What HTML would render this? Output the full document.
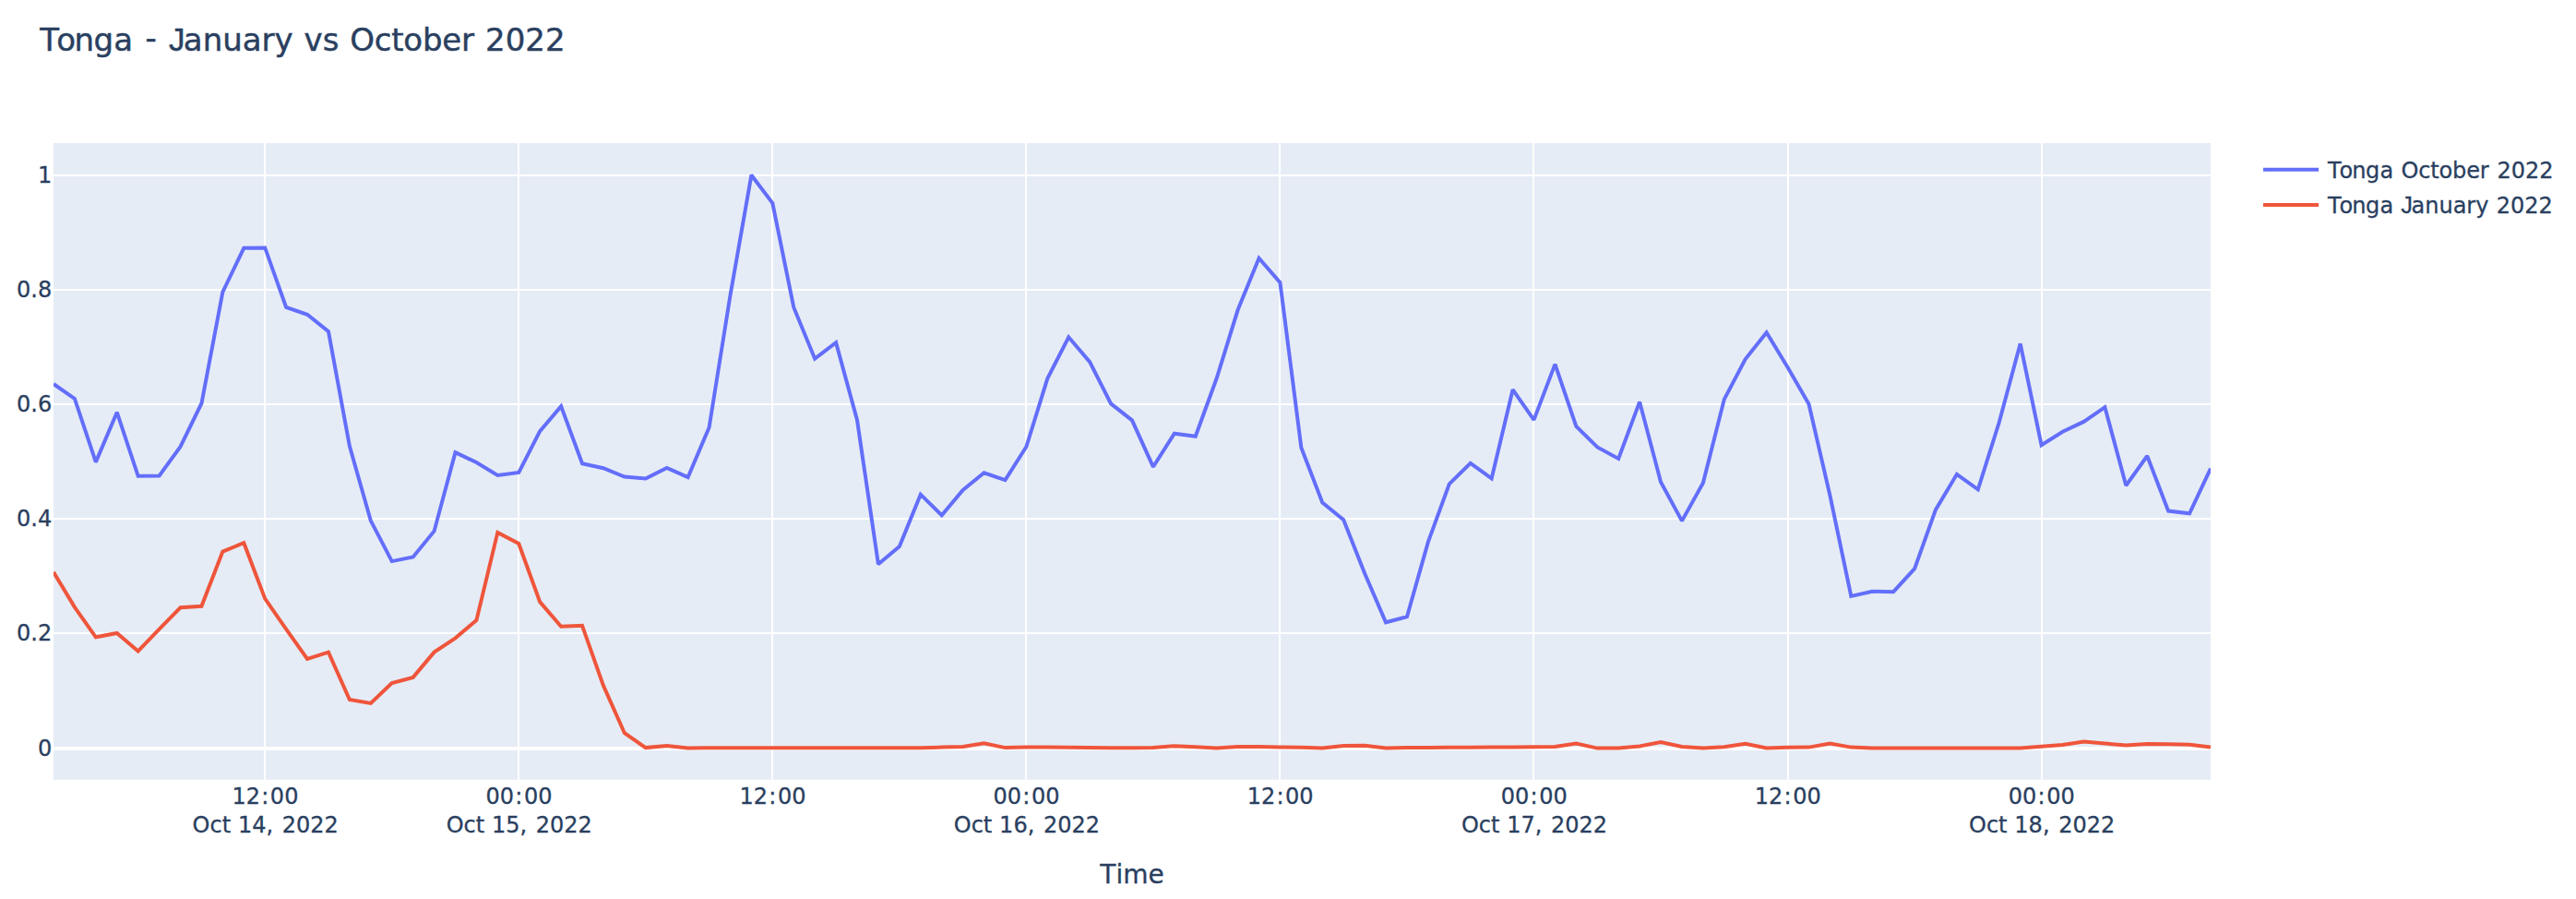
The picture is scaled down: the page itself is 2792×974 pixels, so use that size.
<!DOCTYPE html>
<html lang="en">
<head>
<meta charset="utf-8">
<title>Tonga - January vs October 2022</title>
<style>
html,body{margin:0;padding:0;background:#fff;}
body{width:2792px;height:974px;overflow:hidden;}
svg{display:block;}
text{font-family:"DejaVu Sans","Liberation Sans",Verdana,sans-serif;fill:#2a3f5f;stroke:#2a3f5f;stroke-width:0.3px;font-kerning:none;}
.ti{stroke-width:0.45px;}
.lj{font-family:"Liberation Sans","DejaVu Sans",sans-serif;}
</style>
</head>
<body>
<svg width="2792" height="974" viewBox="0 0 2792 974">
<rect x="0" y="0" width="2792" height="974" fill="#ffffff"/>
<rect x="58.0" y="155.0" width="2338.0" height="689.7" fill="#e5ecf6"/>
<g fill="#ffffff">
<rect x="286" y="155.0" width="2" height="689.7"/>
<rect x="561" y="155.0" width="2" height="689.7"/>
<rect x="836" y="155.0" width="2" height="689.7"/>
<rect x="1111" y="155.0" width="2" height="689.7"/>
<rect x="1386" y="155.0" width="2" height="689.7"/>
<rect x="1661" y="155.0" width="2" height="689.7"/>
<rect x="1937" y="155.0" width="2" height="689.7"/>
<rect x="2212" y="155.0" width="2" height="689.7"/>
<rect x="58.0" y="685" width="2338.0" height="2"/>
<rect x="58.0" y="561" width="2338.0" height="2"/>
<rect x="58.0" y="437" width="2338.0" height="2"/>
<rect x="58.0" y="313" width="2338.0" height="2"/>
<rect x="58.0" y="189" width="2338.0" height="2"/>
<rect x="58.0" y="809" width="2338.0" height="4"/>
</g>
<clipPath id="c"><rect x="58.0" y="155.0" width="2338.0" height="689.7"/></clipPath>
<g clip-path="url(#c)" fill="none" stroke-width="4" stroke-linejoin="miter" stroke-miterlimit="2">
<path d="M58.00,416.00L80.92,431.90L103.84,500.60L126.76,446.70L149.69,515.80L172.61,515.40L195.53,484.00L218.45,437.00L241.37,316.30L264.29,268.80L287.22,268.40L310.14,333.00L333.06,340.80L355.98,359.10L378.90,483.40L401.82,564.10L424.75,608.10L447.67,603.40L470.59,575.40L493.51,490.20L516.43,501.00L539.35,515.00L562.27,511.90L585.20,467.20L608.12,440.10L631.04,502.20L653.96,507.20L676.88,516.60L699.80,518.50L722.73,506.90L745.65,517.00L768.57,463.20L791.49,320.00L814.41,189.70L837.33,220.10L860.25,333.00L883.18,388.70L906.10,371.20L929.02,455.20L951.94,611.20L974.86,592.10L997.78,535.70L1020.71,558.30L1043.63,531.00L1066.55,512.30L1089.47,520.10L1112.39,484.00L1135.31,410.10L1158.24,365.30L1181.16,392.20L1204.08,437.40L1227.00,455.30L1249.92,505.80L1272.84,469.70L1295.76,472.80L1318.69,409.80L1341.61,335.80L1364.53,279.70L1387.45,306.20L1410.37,485.00L1433.29,544.60L1456.22,563.30L1479.14,621.30L1502.06,674.30L1524.98,668.10L1547.90,587.10L1570.82,524.30L1593.75,501.80L1616.67,518.40L1639.59,422.20L1662.51,454.90L1685.43,394.60L1708.35,461.90L1731.27,484.40L1754.20,496.90L1777.12,435.40L1800.04,522.20L1822.96,564.40L1845.88,523.30L1868.80,432.60L1891.73,389.00L1914.65,360.20L1937.57,398.00L1960.49,437.70L1983.41,536.70L2006.33,645.90L2029.25,640.80L2052.18,641.20L2075.10,616.20L2098.02,552.10L2120.94,513.80L2143.86,530.30L2166.78,457.50L2189.71,372.30L2212.63,482.20L2235.55,467.80L2258.47,456.90L2281.39,441.20L2304.31,526.00L2327.24,494.00L2350.16,553.60L2373.08,556.30L2396.00,507.60" stroke="#636efa"/>
<path d="M58.00,619.80L80.92,657.90L103.84,690.30L126.76,686.00L149.69,705.50L172.61,681.70L195.53,658.30L218.45,656.80L241.37,597.60L264.29,588.20L287.22,648.60L310.14,681.70L333.06,714.00L355.98,706.60L378.90,758.00L401.82,761.90L424.75,740.10L447.67,733.90L470.59,706.60L493.51,691.40L516.43,672.00L539.35,576.90L562.27,589.00L585.20,652.10L608.12,678.80L631.04,677.80L653.96,742.80L676.88,794.20L699.80,810.10L722.73,807.90L745.65,810.40L768.57,810.20L791.49,810.20L814.41,810.20L837.33,810.20L860.25,810.20L883.18,810.20L906.10,810.20L929.02,810.20L951.94,810.20L974.86,810.20L997.78,810.20L1020.71,809.60L1043.63,809.00L1066.55,805.20L1089.47,810.10L1112.39,809.60L1135.31,809.60L1158.24,809.80L1181.16,810.10L1204.08,810.20L1227.00,810.20L1249.92,810.10L1272.84,808.30L1295.76,809.20L1318.69,810.40L1341.61,809.00L1364.53,809.00L1387.45,809.60L1410.37,809.80L1433.29,810.40L1456.22,807.90L1479.14,807.70L1502.06,810.40L1524.98,810.10L1547.90,810.00L1570.82,809.80L1593.75,809.70L1616.67,809.60L1639.59,809.40L1662.51,809.30L1685.43,809.00L1708.35,805.50L1731.27,810.60L1754.20,810.40L1777.12,808.50L1800.04,804.10L1822.96,809.00L1845.88,810.60L1868.80,809.30L1891.73,805.80L1914.65,810.40L1937.57,809.80L1960.49,809.60L1983.41,805.60L2006.33,809.60L2029.25,810.60L2052.18,810.60L2075.10,810.60L2098.02,810.60L2120.94,810.60L2143.86,810.60L2166.78,810.60L2189.71,810.60L2212.63,808.80L2235.55,807.10L2258.47,803.60L2281.39,805.50L2304.31,807.40L2327.24,806.00L2350.16,806.30L2373.08,806.80L2396.00,809.60" stroke="#ef553b"/>
</g>
<g font-size="24">
<text x="251.42" y="871">12<tspan dx="1.2">:</tspan><tspan dx="1.6">00</tspan></text>
<text x="208.62" y="902.2">Oct<tspan dx="0.2"> 14,</tspan><tspan dx="2.0"> 2022</tspan></text>
<text x="526.47" y="871">00<tspan dx="1.2">:</tspan><tspan dx="1.6">00</tspan></text>
<text x="483.67" y="902.2">Oct<tspan dx="0.2"> 15,</tspan><tspan dx="2.0"> 2022</tspan></text>
<text x="801.53" y="871">12<tspan dx="1.2">:</tspan><tspan dx="1.6">00</tspan></text>
<text x="1076.59" y="871">00<tspan dx="1.2">:</tspan><tspan dx="1.6">00</tspan></text>
<text x="1033.79" y="902.2">Oct<tspan dx="0.2"> 16,</tspan><tspan dx="2.0"> 2022</tspan></text>
<text x="1351.65" y="871">12<tspan dx="1.2">:</tspan><tspan dx="1.6">00</tspan></text>
<text x="1626.71" y="871">00<tspan dx="1.2">:</tspan><tspan dx="1.6">00</tspan></text>
<text x="1583.91" y="902.2">Oct<tspan dx="0.2"> 17,</tspan><tspan dx="2.0"> 2022</tspan></text>
<text x="1901.77" y="871">12<tspan dx="1.2">:</tspan><tspan dx="1.6">00</tspan></text>
<text x="2176.83" y="871">00<tspan dx="1.2">:</tspan><tspan dx="1.6">00</tspan></text>
<text x="2134.03" y="902.2">Oct<tspan dx="0.2"> 18,</tspan><tspan dx="2.0"> 2022</tspan></text>
</g>
<g font-size="24" text-anchor="end">
<text x="56.2" y="819.30">0</text>
<text x="56.2" y="694.30">0.2</text>
<text x="56.2" y="570.30">0.4</text>
<text x="56.2" y="446.30">0.6</text>
<text x="56.2" y="322.30">0.8</text>
<text x="56.2" y="198.30">1</text>
</g>
<text x="1227" y="956.7" font-size="28" text-anchor="middle">Time</text>
<text class="ti" y="54.8" font-size="34"><tspan x="43.3" dx="0 -2.9 -1.6 -0.5 0.3">Tonga</tspan><tspan x="140"> </tspan><tspan x="157.6" dy="-1.5">-</tspan><tspan x="170" dy="1.5"> </tspan><tspan x="182.9" class="lj" font-size="35">J</tspan><tspan x="198.8">anuary</tspan><tspan x="318"> </tspan><tspan x="329.6">vs</tspan><tspan x="366"> </tspan><tspan x="379.2" letter-spacing="-0.2">October</tspan><tspan x="515"> </tspan><tspan x="526.1">2022</tspan></text>
<line x1="2453" x2="2513" y1="183.7" y2="183.7" stroke="#636efa" stroke-width="4"/>
<line x1="2453" x2="2513" y1="222" y2="222" stroke="#ef553b" stroke-width="4"/>
<text y="192.8" font-size="24"><tspan x="2523.0" dx="0 -2.05 -1.13 -0.35 0.2">Tonga</tspan><tspan x="2594"> </tspan><tspan x="2602.4" letter-spacing="-0.13">October</tspan><tspan x="2699"> </tspan><tspan x="2706.5">2022</tspan></text>
<text y="231.3" font-size="24"><tspan x="2523.0" dx="0 -2.05 -1.13 -0.35 0.2">Tonga</tspan><tspan x="2594"> </tspan><tspan x="2602.3" class="lj" font-size="25.4">J</tspan><tspan x="2613.5">anuary</tspan><tspan x="2698"> </tspan><tspan x="2705.7">2022</tspan></text>
</svg>
</body>
</html>
